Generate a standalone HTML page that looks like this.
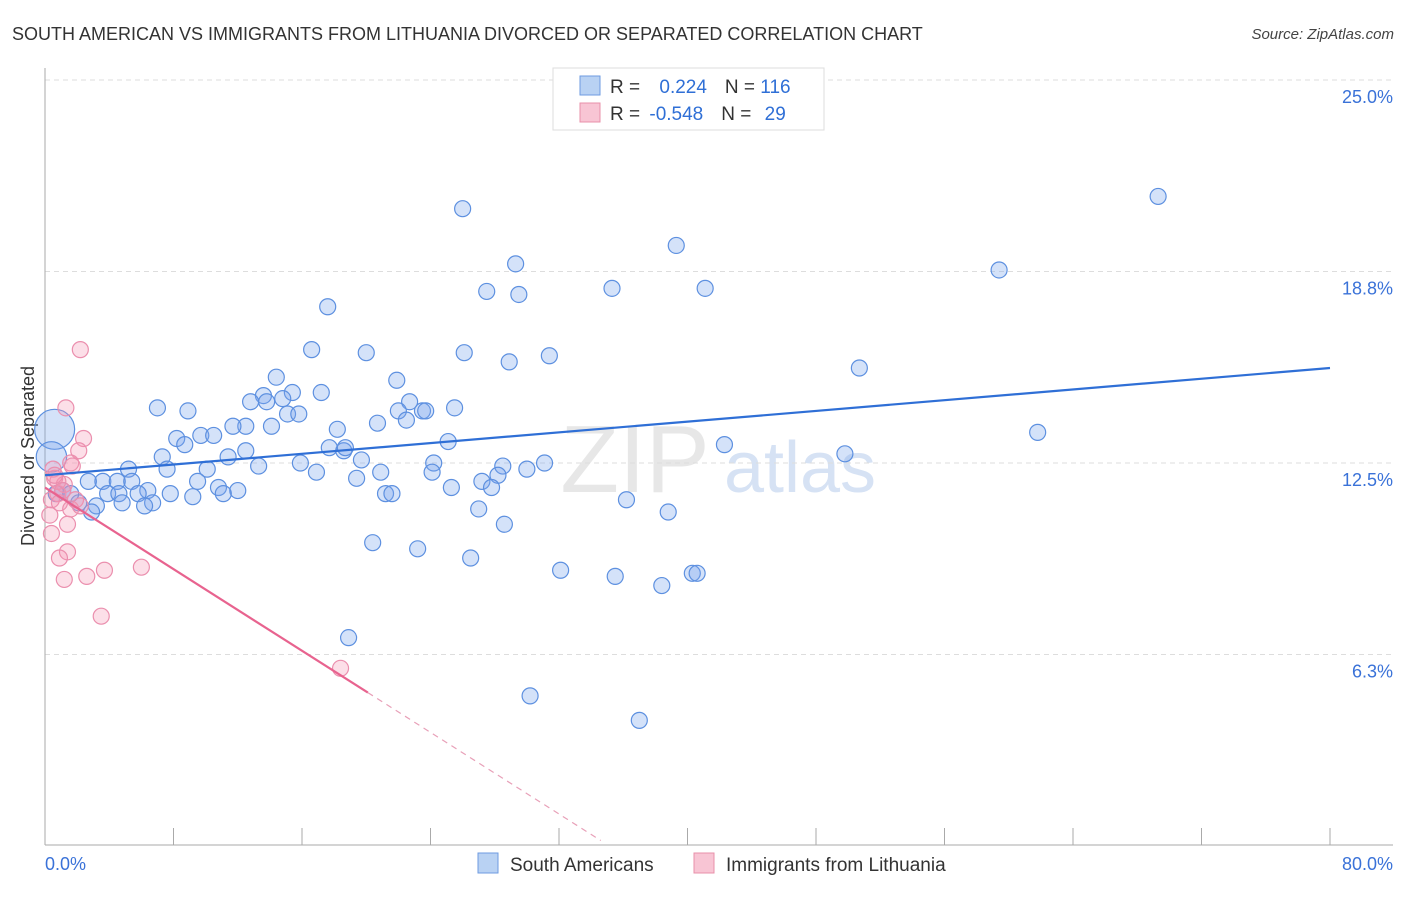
<!DOCTYPE html>
<html><head><meta charset="utf-8"><style>
body{margin:0;background:#fff;font-family:"Liberation Sans",sans-serif;}
svg text{font-family:"Liberation Sans",sans-serif;}
</style></head><body>
<svg id="chart" width="1406" height="892" xmlns="http://www.w3.org/2000/svg">
<text x="12" y="40" font-size="18" fill="#333">SOUTH AMERICAN VS IMMIGRANTS FROM LITHUANIA DIVORCED OR SEPARATED CORRELATION CHART</text>
<text x="1394" y="39" font-size="15" fill="#444" font-style="italic" text-anchor="end">Source: ZipAtlas.com</text>
<text transform="translate(34,456) rotate(-90)" font-size="18" fill="#333" text-anchor="middle">Divorced or Separated</text>
<g>
<text x="635" y="492" font-size="96" fill="#ddd" font-family="Liberation Serif" text-anchor="middle" opacity="0.7">ZIP</text>
<text x="800" y="492" font-size="72" fill="#c5d6f0" text-anchor="middle" opacity="0.7">atlas</text>
</g>
<g id="grid"></g><g id="axes"></g><g id="marks"></g>
<g>
<rect x="553" y="68" width="271" height="62" fill="#fff" stroke="#ddd"/>
<rect x="580" y="76" width="20" height="19" fill="#b9d2f3" stroke="#6e9be0"/>
<rect x="580" y="103" width="20" height="19" fill="#f8c5d4" stroke="#e890aa"/>
<text x="610" y="93" font-size="19" fill="#333">R = <tspan fill="#2f6fd6" dx="14">0.224</tspan><tspan fill="#333" dx="18">N = </tspan><tspan fill="#2f6fd6">116</tspan></text>
<text x="610" y="120" font-size="19" fill="#333">R = <tspan fill="#2f6fd6" dx="4">-0.548</tspan><tspan fill="#333" dx="18">N = </tspan><tspan fill="#2f6fd6" dx="8">29</tspan></text>
</g>
<g>
<rect x="478" y="853" width="20" height="20" fill="#b9d2f3" stroke="#6e9be0"/>
<text x="510" y="871" font-size="19" fill="#333">South Americans</text>
<rect x="694" y="853" width="20" height="20" fill="#f8c5d4" stroke="#e890aa"/>
<text x="726" y="871" font-size="19" fill="#333">Immigrants from Lithuania</text>
</g>
</svg>
<script>
const blueX=[26.0,69.3,39.3,29.3,59.4,27.5,29.5,35.3,41.1,17.6,16.6,20.0,26.1,28.9,31.4,50.7,14.4,21.9,13.6,15.4,17.2,12.8,13.8,14.8,7.0,8.9,15.1,15.8,22.7,22.0,23.5,23.7,25.5,22.5,18.2,20.7,12.5,14.1,11.7,8.2,9.7,10.5,8.7,11.4,7.3,12.5,17.7,18.6,18.7,25.1,61.8,42.3,49.8,15.9,13.3,19.7,24.2,31.1,28.5,5.2,7.6,10.1,16.9,20.9,24.1,19.4,28.2,27.2,27.8,25.3,30.0,3.6,4.5,2.7,5.4,9.5,10.8,12.0,6.4,7.8,3.9,4.6,5.8,21.2,21.6,11.1,9.2,6.7,4.8,6.2,3.2,2.1,1.1,0.7,1.6,27.0,36.2,38.8,2.9,28.6,20.4,23.2,26.5,32.1,35.5,38.4,40.3,40.6,18.9,30.2,37.0,0.6,0.4];
const blueY=[20.8,21.2,19.6,19.0,18.8,18.1,18.0,18.2,18.2,17.6,16.2,16.1,16.1,15.8,16.0,15.6,15.3,15.2,14.7,14.8,14.8,14.5,14.5,14.6,14.3,14.2,14.1,14.1,14.5,14.2,14.2,14.2,14.3,13.9,13.6,13.8,13.7,13.7,13.7,13.3,13.4,13.4,13.1,12.7,12.7,12.9,13.0,12.9,13.0,13.2,13.5,13.1,12.8,12.5,12.4,12.6,12.5,12.5,12.4,12.3,12.3,12.3,12.2,12.2,12.2,12.0,12.1,11.9,11.7,11.7,12.3,11.9,11.9,11.9,11.9,11.9,11.7,11.6,11.6,11.5,11.5,11.5,11.5,11.5,11.5,11.5,11.4,11.2,11.2,11.1,11.1,11.2,11.6,11.5,11.5,11.0,11.3,10.9,10.9,10.5,9.9,9.7,9.4,9.0,8.8,8.5,8.9,8.9,6.8,4.9,4.1,13.6,12.7];
const blueSize=[1,1,1,1,1,1,1,1,1,1,1,1,1,1,1,1,1,1,1,1,1,1,1,1,1,1,1,1,1,1,1,1,1,1,1,1,1,1,1,1,1,1,1,1,1,1,1,1,1,1,1,1,1,1,1,1,1,1,1,1,1,1,1,1,1,1,1,1,1,1,1,1,1,1,1,1,1,1,1,1,1,1,1,1,1,1,1,1,1,1,1,1,1,1,1,1,1,1,1,1,1,1,1,1,1,1,1,1,1,1,1,2.5,1.9];
const pinkX=[2.2,1.3,2.4,2.1,1.6,1.7,0.5,0.6,1.2,0.8,0.4,0.9,1.6,1.4,0.3,0.4,1.4,0.9,1.2,2.6,3.7,6.0,3.5,18.4,1.9,0.8,1.1,2.2,0.6];
const pinkY=[16.2,14.3,13.3,12.9,12.5,12.4,12.3,12.0,11.8,11.5,11.3,11.2,11.0,10.5,10.8,10.2,9.6,9.4,8.7,8.8,9.0,9.1,7.5,5.8,11.3,11.9,11.6,11.1,12.1];
const blueTrend=[12.1,15.6];
const pinkTrend=[11.7,-0.333];
const pinkSolidEnd=20.1, pinkDashEnd=34.6;
const yTicks=[6.3,12.5,18.8,25.0];
const yGrid=[6.25,12.5,18.75,25];
const xTickVals=[0,8,16,24,32,40,48,56,64,72,80];

const NS="http://www.w3.org/2000/svg";
const X=v=>45+v/80*1285;
const Y=v=>80+(25-v)*30.64;
function mk(tag,attrs,parent){const e=document.createElementNS(NS,tag);for(const k in attrs)e.setAttribute(k,attrs[k]);parent.appendChild(e);return e;}
const grid=document.getElementById('grid'),axes=document.getElementById('axes'),marks=document.getElementById('marks');
yGrid.forEach((v,i)=>{
 const l=mk('line',{x1:45,x2:1393,y1:Y(v),y2:Y(v),stroke:'#ddd','stroke-dasharray':'5,4'},grid);
 
 
 const t=mk('text',{x:1393,y:Y(v)+23,'font-size':18,fill:'#3a72d8','text-anchor':'end'},axes);
 t.textContent=yTicks[i].toFixed(1)+'%';
 
 
});
const ax=mk('line',{x1:45,x2:1393,y1:845,y2:845,stroke:'#aaa'},axes);


const ay=mk('line',{x1:45,x2:45,y1:68,y2:845,stroke:'#aaa'},axes);


xTickVals.forEach(v=>{
 const t=mk('line',{x1:X(v),x2:X(v),y1:828,y2:845,stroke:'#aaa'},axes);
 
 
});
const xl0=mk('text',{x:45,y:870,'font-size':18,fill:'#3a72d8'},axes);xl0.textContent=xTickVals[0].toFixed(1)+'%';


const xl1=mk('text',{x:1393,y:870,'font-size':18,fill:'#3a72d8','text-anchor':'end'},axes);xl1.textContent=xTickVals[xTickVals.length-1].toFixed(1)+'%';


blueX.forEach((v,i)=>{
 const c=mk('circle',{cx:X(v),cy:Y(blueY[i]),r:8*blueSize[i],fill:'rgba(120,165,235,0.32)',stroke:'#5d90e0','stroke-width':1.2},marks);
 
 
});
pinkX.forEach((v,i)=>{
 const c=mk('circle',{cx:X(v),cy:Y(pinkY[i]),r:8,fill:'rgba(245,150,180,0.3)',stroke:'#eb8fae','stroke-width':1.2},marks);
 
 
});
const bl=mk('line',{x1:X(0),y1:Y(blueTrend[0]),x2:X(80),y2:Y(blueTrend[1]),stroke:'#2f6fd6','stroke-width':2.2},marks);


const pf=x=>pinkTrend[0]+pinkTrend[1]*x;
const pl=mk('line',{x1:X(0),y1:Y(pf(0)),x2:X(pinkSolidEnd),y2:Y(pf(pinkSolidEnd)),stroke:'#e8638f','stroke-width':2.2},marks);


const pd=mk('line',{x1:X(pinkSolidEnd),y1:Y(pf(pinkSolidEnd)),x2:X(pinkDashEnd),y2:Y(pf(pinkDashEnd)),stroke:'#e8a0b8','stroke-width':1.2,'stroke-dasharray':'6,5'},marks);


</script>
</body></html>
